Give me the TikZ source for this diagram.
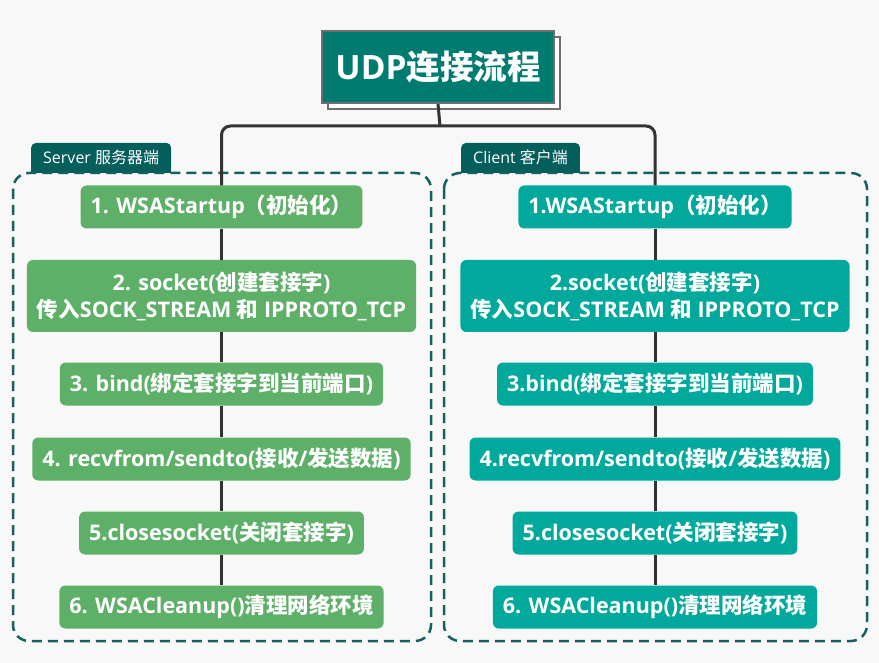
\documentclass[tikz,border=0pt]{standalone}
\usepackage{fontspec}
\setmainfont{Open Sans}
\newfontfamily\zh{Noto Sans CJK SC}
\usetikzlibrary{positioning,shadows}

\definecolor{pagebg}{HTML}{F8F8F8}
\definecolor{titlefill}{HTML}{007B70}
\definecolor{titleedge}{HTML}{6E6E6E}
\definecolor{srvgreen}{HTML}{5EB069}
\definecolor{cliteal}{HTML}{00A99C}
\definecolor{tabfill}{HTML}{035E5C}
\definecolor{framecol}{HTML}{16605F}
\definecolor{linkcol}{HTML}{333333}

\tikzset{
    stepbox/.style={rounded corners=6, text=white, inner xsep=10, inner ysep=0,
        minimum height=43, align=center,
        font=\bfseries\fontsize{21.5}{27}\selectfont},
    srvbox/.style={stepbox, fill=srvgreen},
    clibox/.style={stepbox, fill=cliteal},
    tab/.style={fill=tabfill, text=white, rounded corners=5, minimum height=30,
        inner xsep=12, font=\fontsize{16}{18}\selectfont},
    frame/.style={draw=framecol, line width=2.5, dash pattern=on 10 off 6,
        rounded corners=16},
    link/.style={draw=linkcol, line width=3},
}

\begin{document}
\begin{tikzpicture}[x=1pt, y=-1pt]
    % Page
    \fill[pagebg] (0,0) rectangle (879,663);
    \useasboundingbox (0,0) rectangle (879,663);

    % Title
    \node[fill=titlefill, draw=titleedge, line width=2, text=white,
        minimum width=232, minimum height=72,
        font=\bfseries\fontsize{33.5}{38}\selectfont,
        general shadow={shadow xshift=6pt, shadow yshift=-6pt,
            fill=white, draw=titleedge, line width=2}]
        (title) at (438,67) {UDP{\zh 连接流程}};

    % Server side
    \node[tab, anchor=south west] (srvtab) at (31,173) {Server {\zh 服务器端}};
    \fill[tabfill] (srvtab.south west) rectangle ([yshift=6]srvtab.south east);
    \draw[frame] (13,173) rectangle (431,641);

    % Client side
    \node[tab, anchor=south west] (clitab) at (461,173) {Client {\zh 客户端}};
    \fill[tabfill] (clitab.south west) rectangle ([yshift=6]clitab.south east);
    \draw[frame] (444,173) rectangle (867,641);

    % Server steps
    \node[srvbox] (s1) at (221.5,207) {1. WSAStartup{\zh（初始化）}};
    \node[srvbox, minimum height=72] (s2) at (221.5,296) {2. socket({\zh 创建套接字})\\{\zh 传入}SOCK\_STREAM {\zh 和} IPPROTO\_TCP};
    \node[srvbox] (s3) at (221.5,384) {3. bind({\zh 绑定套接字到当前端口})};
    \node[srvbox] (s4) at (221.5,459) {4. recvfrom/sendto({\zh 接收}/{\zh 发送数据})};
    \node[srvbox] (s5) at (221.5,533) {5.closesocket({\zh 关闭套接字})};
    \node[srvbox] (s6) at (221.5,607) {6. WSACleanup(){\zh 清理网络环境}};

    % Client steps
    \node[clibox] (c1) at (655,207) {1.WSAStartup{\zh（初始化）}};
    \node[clibox, minimum height=72] (c2) at (655,296) {2.socket({\zh 创建套接字})\\{\zh 传入}SOCK\_STREAM {\zh 和} IPPROTO\_TCP};
    \node[clibox] (c3) at (655,384) {3.bind({\zh 绑定套接字到当前端口})};
    \node[clibox] (c4) at (655,459) {4.recvfrom/sendto({\zh 接收}/{\zh 发送数据})};
    \node[clibox] (c5) at (655,533) {5.closesocket({\zh 关闭套接字})};
    \node[clibox] (c6) at (655,607) {6. WSACleanup(){\zh 清理网络环境}};

    % Connectors
    \coordinate (fork) at (440,126);
    \draw[link] (title.south) -- (fork);
    \draw[link, rounded corners=9] (fork) -| (s1.north);
    \draw[link, rounded corners=9] (fork) -| (c1.north);
    \foreach \a/\b in {1/2,2/3,3/4,4/5,5/6} {
        \draw[link] (s\a) -- (s\b);
        \draw[link] (c\a) -- (c\b);
    }
\end{tikzpicture}
\end{document}
